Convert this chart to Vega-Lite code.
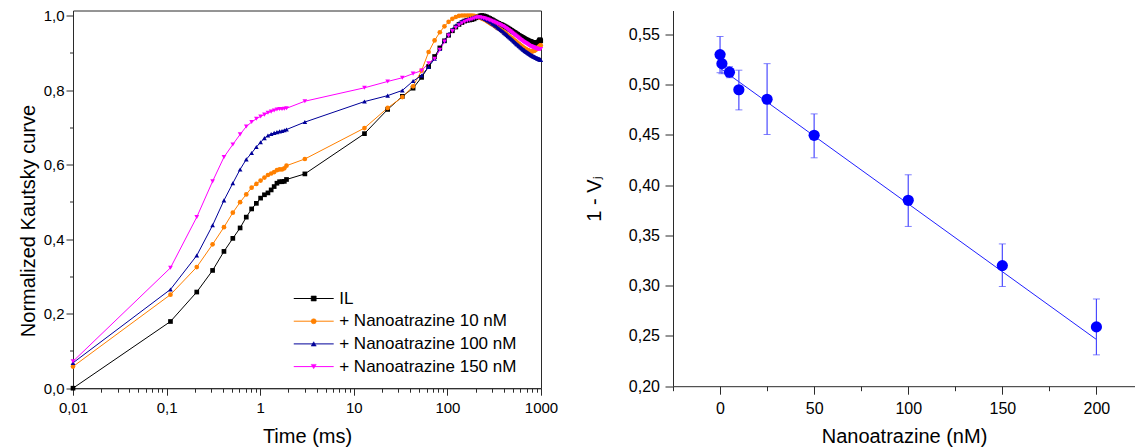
{
"$schema": "https://vega.github.io/schema/vega-lite/v6.json",
"padding": {"left": 17, "top": 7.5, "right": 0, "bottom": 0},
"spacing": 25,
"resolve": {"legend": {"color": "independent", "shape": "independent"}},
"config": {
 "font": "Liberation Sans",
 "view": {"stroke": "#2b2b2b", "strokeWidth": 1},
 "axis": {"grid": false, "domainColor": "#2b2b2b", "tickColor": "#2b2b2b", "labelColor": "#000000", "titleColor": "#000000", "labelFont": "Liberation Sans", "titleFont": "Liberation Sans", "titleFontWeight": "normal", "titleFontSize": 20, "labelFontSize": 15, "labelOverlap": false, "labelFlush": false, "tickWidth": 1, "domainWidth": 1}
},
"hconcat": [
{
 "width": 468, "height": 377.7,
 "data": {"values": [
{"s":"IL","t":0.01,"v":0},{"s":"IL","t":0.11,"v":0.179},{"s":"IL","t":0.21,"v":0.258},{"s":"IL","t":0.31,"v":0.316},{"s":"IL","t":0.41,"v":0.367},{"s":"IL","t":0.51,"v":0.402},{"s":"IL","t":0.61,"v":0.43},{"s":"IL","t":0.71,"v":0.459},{"s":"IL","t":0.81,"v":0.481},{"s":"IL","t":0.91,"v":0.496},{"s":"IL","t":1.01,"v":0.51},{"s":"IL","t":1.11,"v":0.519},{"s":"IL","t":1.21,"v":0.524},{"s":"IL","t":1.31,"v":0.532},{"s":"IL","t":1.41,"v":0.541},{"s":"IL","t":1.51,"v":0.55},{"s":"IL","t":1.61,"v":0.554},{"s":"IL","t":1.71,"v":0.554},{"s":"IL","t":1.81,"v":0.555},{"s":"IL","t":1.91,"v":0.56},
{"s":"IL","t":3,"v":0.575},{"s":"IL","t":13,"v":0.683},{"s":"IL","t":23,"v":0.748},{"s":"IL","t":33,"v":0.783},{"s":"IL","t":43,"v":0.805},{"s":"IL","t":53,"v":0.834},{"s":"IL","t":63,"v":0.863},{"s":"IL","t":73,"v":0.89},{"s":"IL","t":83,"v":0.913},{"s":"IL","t":93,"v":0.932},
{"s":"IL","t":103,"v":0.947},{"s":"IL","t":113,"v":0.959},{"s":"IL","t":123,"v":0.969},{"s":"IL","t":133,"v":0.976},{"s":"IL","t":143,"v":0.981},{"s":"IL","t":153,"v":0.985},{"s":"IL","t":163,"v":0.987},{"s":"IL","t":173,"v":0.988},{"s":"IL","t":183,"v":0.989},{"s":"IL","t":193,"v":0.991},
{"s":"IL","t":203,"v":0.994},{"s":"IL","t":213,"v":0.997},{"s":"IL","t":223,"v":0.999},{"s":"IL","t":233,"v":1},{"s":"IL","t":243,"v":0.999},{"s":"IL","t":253,"v":0.998},{"s":"IL","t":263,"v":0.996},{"s":"IL","t":273,"v":0.994},{"s":"IL","t":283,"v":0.992},{"s":"IL","t":293,"v":0.99},
{"s":"IL","t":303,"v":0.988},{"s":"IL","t":313,"v":0.986},{"s":"IL","t":323,"v":0.984},{"s":"IL","t":333,"v":0.982},{"s":"IL","t":343,"v":0.98},{"s":"IL","t":353,"v":0.979},{"s":"IL","t":363,"v":0.977},{"s":"IL","t":373,"v":0.976},{"s":"IL","t":383,"v":0.975},{"s":"IL","t":393,"v":0.973},
{"s":"IL","t":403,"v":0.972},{"s":"IL","t":413,"v":0.97},{"s":"IL","t":423,"v":0.969},{"s":"IL","t":433,"v":0.967},{"s":"IL","t":443,"v":0.966},{"s":"IL","t":453,"v":0.964},{"s":"IL","t":463,"v":0.963},{"s":"IL","t":473,"v":0.961},{"s":"IL","t":483,"v":0.96},{"s":"IL","t":493,"v":0.958},
{"s":"IL","t":503,"v":0.957},{"s":"IL","t":513,"v":0.955},{"s":"IL","t":523,"v":0.954},{"s":"IL","t":533,"v":0.953},{"s":"IL","t":543,"v":0.951},{"s":"IL","t":553,"v":0.95},{"s":"IL","t":563,"v":0.949},{"s":"IL","t":573,"v":0.947},{"s":"IL","t":583,"v":0.946},{"s":"IL","t":593,"v":0.945},
{"s":"IL","t":603,"v":0.944},{"s":"IL","t":613,"v":0.943},{"s":"IL","t":623,"v":0.942},{"s":"IL","t":633,"v":0.941},{"s":"IL","t":643,"v":0.94},{"s":"IL","t":653,"v":0.939},{"s":"IL","t":663,"v":0.938},{"s":"IL","t":673,"v":0.937},{"s":"IL","t":683,"v":0.936},{"s":"IL","t":693,"v":0.935},
{"s":"IL","t":703,"v":0.934},{"s":"IL","t":713,"v":0.934},{"s":"IL","t":723,"v":0.933},{"s":"IL","t":733,"v":0.932},{"s":"IL","t":743,"v":0.931},{"s":"IL","t":753,"v":0.931},{"s":"IL","t":763,"v":0.93},{"s":"IL","t":773,"v":0.93},{"s":"IL","t":783,"v":0.929},{"s":"IL","t":793,"v":0.929},
{"s":"IL","t":803,"v":0.928},{"s":"IL","t":813,"v":0.928},{"s":"IL","t":823,"v":0.927},{"s":"IL","t":833,"v":0.927},{"s":"IL","t":843,"v":0.927},{"s":"IL","t":853,"v":0.926},{"s":"IL","t":863,"v":0.926},{"s":"IL","t":873,"v":0.926},{"s":"IL","t":883,"v":0.925},{"s":"IL","t":893,"v":0.925},
{"s":"IL","t":903,"v":0.925},{"s":"IL","t":913,"v":0.925},{"s":"IL","t":923,"v":0.926},{"s":"IL","t":933,"v":0.927},{"s":"IL","t":943,"v":0.929},{"s":"IL","t":953,"v":0.931},{"s":"IL","t":963,"v":0.933},{"s":"IL","t":973,"v":0.935},{"s":"IL","t":983,"v":0.934},{"s":"IL","t":993,"v":0.932},

{"s":"10 nM","t":0.01,"v":0.058},{"s":"10 nM","t":0.11,"v":0.251},{"s":"10 nM","t":0.21,"v":0.325},{"s":"10 nM","t":0.31,"v":0.386},{"s":"10 nM","t":0.41,"v":0.432},{"s":"10 nM","t":0.51,"v":0.471},{"s":"10 nM","t":0.61,"v":0.499},{"s":"10 nM","t":0.71,"v":0.52},{"s":"10 nM","t":0.81,"v":0.538},{"s":"10 nM","t":0.91,"v":0.548},{"s":"10 nM","t":1.01,"v":0.557},{"s":"10 nM","t":1.11,"v":0.565},{"s":"10 nM","t":1.21,"v":0.572},{"s":"10 nM","t":1.31,"v":0.576},{"s":"10 nM","t":1.41,"v":0.58},{"s":"10 nM","t":1.51,"v":0.585},{"s":"10 nM","t":1.61,"v":0.587},{"s":"10 nM","t":1.71,"v":0.587},{"s":"10 nM","t":1.81,"v":0.59},{"s":"10 nM","t":1.91,"v":0.597},
{"s":"10 nM","t":3,"v":0.615},{"s":"10 nM","t":13,"v":0.698},{"s":"10 nM","t":23,"v":0.752},{"s":"10 nM","t":33,"v":0.781},{"s":"10 nM","t":43,"v":0.81},{"s":"10 nM","t":53,"v":0.852},{"s":"10 nM","t":63,"v":0.902},{"s":"10 nM","t":73,"v":0.933},{"s":"10 nM","t":83,"v":0.955},{"s":"10 nM","t":93,"v":0.971},
{"s":"10 nM","t":103,"v":0.983},{"s":"10 nM","t":113,"v":0.991},{"s":"10 nM","t":123,"v":0.996},{"s":"10 nM","t":133,"v":0.999},{"s":"10 nM","t":143,"v":1},{"s":"10 nM","t":153,"v":1},{"s":"10 nM","t":163,"v":1},{"s":"10 nM","t":173,"v":1},{"s":"10 nM","t":183,"v":1},{"s":"10 nM","t":193,"v":0.999},
{"s":"10 nM","t":203,"v":0.998},{"s":"10 nM","t":213,"v":0.996},{"s":"10 nM","t":223,"v":0.994},{"s":"10 nM","t":233,"v":0.992},{"s":"10 nM","t":243,"v":0.99},{"s":"10 nM","t":253,"v":0.988},{"s":"10 nM","t":263,"v":0.985},{"s":"10 nM","t":273,"v":0.983},{"s":"10 nM","t":283,"v":0.98},{"s":"10 nM","t":293,"v":0.978},
{"s":"10 nM","t":303,"v":0.976},{"s":"10 nM","t":313,"v":0.974},{"s":"10 nM","t":323,"v":0.971},{"s":"10 nM","t":333,"v":0.969},{"s":"10 nM","t":343,"v":0.967},{"s":"10 nM","t":353,"v":0.965},{"s":"10 nM","t":363,"v":0.963},{"s":"10 nM","t":373,"v":0.961},{"s":"10 nM","t":383,"v":0.959},{"s":"10 nM","t":393,"v":0.957},
{"s":"10 nM","t":403,"v":0.955},{"s":"10 nM","t":413,"v":0.953},{"s":"10 nM","t":423,"v":0.951},{"s":"10 nM","t":433,"v":0.949},{"s":"10 nM","t":443,"v":0.947},{"s":"10 nM","t":453,"v":0.945},{"s":"10 nM","t":463,"v":0.943},{"s":"10 nM","t":473,"v":0.941},{"s":"10 nM","t":483,"v":0.94},{"s":"10 nM","t":493,"v":0.938},
{"s":"10 nM","t":503,"v":0.936},{"s":"10 nM","t":513,"v":0.934},{"s":"10 nM","t":523,"v":0.932},{"s":"10 nM","t":533,"v":0.931},{"s":"10 nM","t":543,"v":0.929},{"s":"10 nM","t":553,"v":0.927},{"s":"10 nM","t":563,"v":0.926},{"s":"10 nM","t":573,"v":0.924},{"s":"10 nM","t":583,"v":0.923},{"s":"10 nM","t":593,"v":0.921},
{"s":"10 nM","t":603,"v":0.92},{"s":"10 nM","t":613,"v":0.918},{"s":"10 nM","t":623,"v":0.917},{"s":"10 nM","t":633,"v":0.916},{"s":"10 nM","t":643,"v":0.914},{"s":"10 nM","t":653,"v":0.913},{"s":"10 nM","t":663,"v":0.912},{"s":"10 nM","t":673,"v":0.911},{"s":"10 nM","t":683,"v":0.91},{"s":"10 nM","t":693,"v":0.909},
{"s":"10 nM","t":703,"v":0.908},{"s":"10 nM","t":713,"v":0.907},{"s":"10 nM","t":723,"v":0.906},{"s":"10 nM","t":733,"v":0.906},{"s":"10 nM","t":743,"v":0.905},{"s":"10 nM","t":753,"v":0.905},{"s":"10 nM","t":763,"v":0.904},{"s":"10 nM","t":773,"v":0.904},{"s":"10 nM","t":783,"v":0.904},{"s":"10 nM","t":793,"v":0.904},
{"s":"10 nM","t":803,"v":0.904},{"s":"10 nM","t":813,"v":0.904},{"s":"10 nM","t":823,"v":0.905},{"s":"10 nM","t":833,"v":0.905},{"s":"10 nM","t":843,"v":0.906},{"s":"10 nM","t":853,"v":0.906},{"s":"10 nM","t":863,"v":0.907},{"s":"10 nM","t":873,"v":0.908},{"s":"10 nM","t":883,"v":0.909},{"s":"10 nM","t":893,"v":0.91},
{"s":"10 nM","t":903,"v":0.911},{"s":"10 nM","t":913,"v":0.912},{"s":"10 nM","t":923,"v":0.913},{"s":"10 nM","t":933,"v":0.914},{"s":"10 nM","t":943,"v":0.915},{"s":"10 nM","t":953,"v":0.916},{"s":"10 nM","t":963,"v":0.917},{"s":"10 nM","t":973,"v":0.918},{"s":"10 nM","t":983,"v":0.919},{"s":"10 nM","t":993,"v":0.92},

{"s":"100 nM","t":0.01,"v":0.068},{"s":"100 nM","t":0.11,"v":0.265},{"s":"100 nM","t":0.21,"v":0.356},{"s":"100 nM","t":0.31,"v":0.437},{"s":"100 nM","t":0.41,"v":0.504},{"s":"100 nM","t":0.51,"v":0.55},{"s":"100 nM","t":0.61,"v":0.587},{"s":"100 nM","t":0.71,"v":0.614},{"s":"100 nM","t":0.81,"v":0.631},{"s":"100 nM","t":0.91,"v":0.647},{"s":"100 nM","t":1.01,"v":0.66},{"s":"100 nM","t":1.11,"v":0.671},{"s":"100 nM","t":1.21,"v":0.678},{"s":"100 nM","t":1.31,"v":0.682},{"s":"100 nM","t":1.41,"v":0.685},{"s":"100 nM","t":1.51,"v":0.687},{"s":"100 nM","t":1.61,"v":0.689},{"s":"100 nM","t":1.71,"v":0.69},{"s":"100 nM","t":1.81,"v":0.692},{"s":"100 nM","t":1.91,"v":0.694},
{"s":"100 nM","t":3,"v":0.714},{"s":"100 nM","t":13,"v":0.769},{"s":"100 nM","t":23,"v":0.785},{"s":"100 nM","t":33,"v":0.799},{"s":"100 nM","t":43,"v":0.824},{"s":"100 nM","t":53,"v":0.839},{"s":"100 nM","t":63,"v":0.862},{"s":"100 nM","t":73,"v":0.884},{"s":"100 nM","t":83,"v":0.91},{"s":"100 nM","t":93,"v":0.933},
{"s":"100 nM","t":103,"v":0.95},{"s":"100 nM","t":113,"v":0.963},{"s":"100 nM","t":123,"v":0.973},{"s":"100 nM","t":133,"v":0.98},{"s":"100 nM","t":143,"v":0.985},{"s":"100 nM","t":153,"v":0.988},{"s":"100 nM","t":163,"v":0.99},{"s":"100 nM","t":173,"v":0.992},{"s":"100 nM","t":183,"v":0.994},{"s":"100 nM","t":193,"v":0.996},
{"s":"100 nM","t":203,"v":0.998},{"s":"100 nM","t":213,"v":0.998},{"s":"100 nM","t":223,"v":0.997},{"s":"100 nM","t":233,"v":0.995},{"s":"100 nM","t":243,"v":0.993},{"s":"100 nM","t":253,"v":0.991},{"s":"100 nM","t":263,"v":0.988},{"s":"100 nM","t":273,"v":0.986},{"s":"100 nM","t":283,"v":0.983},{"s":"100 nM","t":293,"v":0.981},
{"s":"100 nM","t":303,"v":0.978},{"s":"100 nM","t":313,"v":0.976},{"s":"100 nM","t":323,"v":0.973},{"s":"100 nM","t":333,"v":0.971},{"s":"100 nM","t":343,"v":0.968},{"s":"100 nM","t":353,"v":0.966},{"s":"100 nM","t":363,"v":0.964},{"s":"100 nM","t":373,"v":0.961},{"s":"100 nM","t":383,"v":0.959},{"s":"100 nM","t":393,"v":0.957},
{"s":"100 nM","t":403,"v":0.954},{"s":"100 nM","t":413,"v":0.952},{"s":"100 nM","t":423,"v":0.95},{"s":"100 nM","t":433,"v":0.948},{"s":"100 nM","t":443,"v":0.945},{"s":"100 nM","t":453,"v":0.943},{"s":"100 nM","t":463,"v":0.941},{"s":"100 nM","t":473,"v":0.939},{"s":"100 nM","t":483,"v":0.937},{"s":"100 nM","t":493,"v":0.935},
{"s":"100 nM","t":503,"v":0.933},{"s":"100 nM","t":513,"v":0.931},{"s":"100 nM","t":523,"v":0.929},{"s":"100 nM","t":533,"v":0.927},{"s":"100 nM","t":543,"v":0.925},{"s":"100 nM","t":553,"v":0.923},{"s":"100 nM","t":563,"v":0.922},{"s":"100 nM","t":573,"v":0.92},{"s":"100 nM","t":583,"v":0.918},{"s":"100 nM","t":593,"v":0.917},
{"s":"100 nM","t":603,"v":0.915},{"s":"100 nM","t":613,"v":0.914},{"s":"100 nM","t":623,"v":0.912},{"s":"100 nM","t":633,"v":0.911},{"s":"100 nM","t":643,"v":0.909},{"s":"100 nM","t":653,"v":0.908},{"s":"100 nM","t":663,"v":0.907},{"s":"100 nM","t":673,"v":0.905},{"s":"100 nM","t":683,"v":0.904},{"s":"100 nM","t":693,"v":0.903},
{"s":"100 nM","t":703,"v":0.902},{"s":"100 nM","t":713,"v":0.901},{"s":"100 nM","t":723,"v":0.9},{"s":"100 nM","t":733,"v":0.899},{"s":"100 nM","t":743,"v":0.898},{"s":"100 nM","t":753,"v":0.897},{"s":"100 nM","t":763,"v":0.896},{"s":"100 nM","t":773,"v":0.895},{"s":"100 nM","t":783,"v":0.894},{"s":"100 nM","t":793,"v":0.893},
{"s":"100 nM","t":803,"v":0.893},{"s":"100 nM","t":813,"v":0.892},{"s":"100 nM","t":823,"v":0.891},{"s":"100 nM","t":833,"v":0.89},{"s":"100 nM","t":843,"v":0.89},{"s":"100 nM","t":853,"v":0.889},{"s":"100 nM","t":863,"v":0.888},{"s":"100 nM","t":873,"v":0.888},{"s":"100 nM","t":883,"v":0.887},{"s":"100 nM","t":893,"v":0.886},
{"s":"100 nM","t":903,"v":0.886},{"s":"100 nM","t":913,"v":0.885},{"s":"100 nM","t":923,"v":0.885},{"s":"100 nM","t":933,"v":0.884},{"s":"100 nM","t":943,"v":0.884},{"s":"100 nM","t":953,"v":0.883},{"s":"100 nM","t":963,"v":0.883},{"s":"100 nM","t":973,"v":0.882},{"s":"100 nM","t":983,"v":0.882},{"s":"100 nM","t":993,"v":0.881},

{"s":"150 nM","t":0.01,"v":0.072},{"s":"150 nM","t":0.11,"v":0.323},{"s":"150 nM","t":0.21,"v":0.459},{"s":"150 nM","t":0.31,"v":0.555},{"s":"150 nM","t":0.41,"v":0.62},{"s":"150 nM","t":0.51,"v":0.654},{"s":"150 nM","t":0.61,"v":0.681},{"s":"150 nM","t":0.71,"v":0.702},{"s":"150 nM","t":0.81,"v":0.714},{"s":"150 nM","t":0.91,"v":0.723},{"s":"150 nM","t":1.01,"v":0.729},{"s":"150 nM","t":1.11,"v":0.734},{"s":"150 nM","t":1.21,"v":0.739},{"s":"150 nM","t":1.31,"v":0.742},{"s":"150 nM","t":1.41,"v":0.745},{"s":"150 nM","t":1.51,"v":0.748},{"s":"150 nM","t":1.61,"v":0.749},{"s":"150 nM","t":1.71,"v":0.749},{"s":"150 nM","t":1.81,"v":0.75},{"s":"150 nM","t":1.91,"v":0.751},
{"s":"150 nM","t":3,"v":0.77},{"s":"150 nM","t":13,"v":0.806},{"s":"150 nM","t":23,"v":0.823},{"s":"150 nM","t":33,"v":0.833},{"s":"150 nM","t":43,"v":0.844},{"s":"150 nM","t":53,"v":0.852},{"s":"150 nM","t":63,"v":0.872},{"s":"150 nM","t":73,"v":0.884},{"s":"150 nM","t":83,"v":0.908},{"s":"150 nM","t":93,"v":0.93},
{"s":"150 nM","t":103,"v":0.946},{"s":"150 nM","t":113,"v":0.958},{"s":"150 nM","t":123,"v":0.967},{"s":"150 nM","t":133,"v":0.974},{"s":"150 nM","t":143,"v":0.979},{"s":"150 nM","t":153,"v":0.983},{"s":"150 nM","t":163,"v":0.986},{"s":"150 nM","t":173,"v":0.988},{"s":"150 nM","t":183,"v":0.99},{"s":"150 nM","t":193,"v":0.992},
{"s":"150 nM","t":203,"v":0.994},{"s":"150 nM","t":213,"v":0.995},{"s":"150 nM","t":223,"v":0.995},{"s":"150 nM","t":233,"v":0.994},{"s":"150 nM","t":243,"v":0.993},{"s":"150 nM","t":253,"v":0.992},{"s":"150 nM","t":263,"v":0.99},{"s":"150 nM","t":273,"v":0.989},{"s":"150 nM","t":283,"v":0.987},{"s":"150 nM","t":293,"v":0.986},
{"s":"150 nM","t":303,"v":0.984},{"s":"150 nM","t":313,"v":0.983},{"s":"150 nM","t":323,"v":0.981},{"s":"150 nM","t":333,"v":0.98},{"s":"150 nM","t":343,"v":0.978},{"s":"150 nM","t":353,"v":0.977},{"s":"150 nM","t":363,"v":0.975},{"s":"150 nM","t":373,"v":0.974},{"s":"150 nM","t":383,"v":0.972},{"s":"150 nM","t":393,"v":0.971},
{"s":"150 nM","t":403,"v":0.969},{"s":"150 nM","t":413,"v":0.967},{"s":"150 nM","t":423,"v":0.966},{"s":"150 nM","t":433,"v":0.964},{"s":"150 nM","t":443,"v":0.962},{"s":"150 nM","t":453,"v":0.96},{"s":"150 nM","t":463,"v":0.958},{"s":"150 nM","t":473,"v":0.957},{"s":"150 nM","t":483,"v":0.955},{"s":"150 nM","t":493,"v":0.953},
{"s":"150 nM","t":503,"v":0.951},{"s":"150 nM","t":513,"v":0.949},{"s":"150 nM","t":523,"v":0.948},{"s":"150 nM","t":533,"v":0.946},{"s":"150 nM","t":543,"v":0.944},{"s":"150 nM","t":553,"v":0.943},{"s":"150 nM","t":563,"v":0.941},{"s":"150 nM","t":573,"v":0.94},{"s":"150 nM","t":583,"v":0.938},{"s":"150 nM","t":593,"v":0.937},
{"s":"150 nM","t":603,"v":0.935},{"s":"150 nM","t":613,"v":0.934},{"s":"150 nM","t":623,"v":0.933},{"s":"150 nM","t":633,"v":0.931},{"s":"150 nM","t":643,"v":0.93},{"s":"150 nM","t":653,"v":0.929},{"s":"150 nM","t":663,"v":0.928},{"s":"150 nM","t":673,"v":0.927},{"s":"150 nM","t":683,"v":0.926},{"s":"150 nM","t":693,"v":0.925},
{"s":"150 nM","t":703,"v":0.924},{"s":"150 nM","t":713,"v":0.923},{"s":"150 nM","t":723,"v":0.922},{"s":"150 nM","t":733,"v":0.921},{"s":"150 nM","t":743,"v":0.92},{"s":"150 nM","t":753,"v":0.919},{"s":"150 nM","t":763,"v":0.918},{"s":"150 nM","t":773,"v":0.918},{"s":"150 nM","t":783,"v":0.917},{"s":"150 nM","t":793,"v":0.916},
{"s":"150 nM","t":803,"v":0.916},{"s":"150 nM","t":813,"v":0.915},{"s":"150 nM","t":823,"v":0.915},{"s":"150 nM","t":833,"v":0.914},{"s":"150 nM","t":843,"v":0.914},{"s":"150 nM","t":853,"v":0.913},{"s":"150 nM","t":863,"v":0.913},{"s":"150 nM","t":873,"v":0.912},{"s":"150 nM","t":883,"v":0.912},{"s":"150 nM","t":893,"v":0.911},
{"s":"150 nM","t":903,"v":0.911},{"s":"150 nM","t":913,"v":0.911},{"s":"150 nM","t":923,"v":0.91},{"s":"150 nM","t":933,"v":0.91},{"s":"150 nM","t":943,"v":0.91},{"s":"150 nM","t":953,"v":0.91},{"s":"150 nM","t":963,"v":0.91},{"s":"150 nM","t":973,"v":0.91},{"s":"150 nM","t":983,"v":0.91},{"s":"150 nM","t":993,"v":0.91}
 ]},
 "encoding": {
  "x": {"field": "t", "type": "quantitative", "title": "Time (ms)",
   "scale": {"type": "log", "domain": [0.01, 1000], "nice": false},
   "axis": {"values": [0.01,0.02,0.03,0.04,0.05,0.06,0.07,0.08,0.09,0.1,0.2,0.3,0.4,0.5,0.6,0.7,0.8,0.9,1,2,3,4,5,6,7,8,9,10,20,30,40,50,60,70,80,90,100,200,300,400,500,600,700,800,900,1000],
    "labelExpr": "indexof([0.01,0.1,1,10,100,1000], datum.value) >= 0 ? replace(format(datum.value, '~g'), '.', ',') : ''",
    "tickSize": {"condition": {"test": "indexof([0.01,0.1,1,10,100,1000], datum.value) >= 0", "value": 7}, "value": 4},
    "labelPadding": 5, "titlePadding": 11, "titleFontSize": 20, "labelFontSize": 15}},
  "y": {"field": "v", "type": "quantitative", "title": "Normalized Kautsky curve",
   "scale": {"domain": [0, 1.0134], "nice": false, "zero": false},
   "axis": {"values": [0,0.1,0.2,0.3,0.4,0.5,0.6,0.7,0.8,0.9,1],
    "labelExpr": "round(datum.value*10) % 2 == 0 ? replace(format(datum.value, '.1f'), '.', ',') : ''",
    "tickSize": {"condition": {"test": "round(datum.value*10) % 2 == 0", "value": 7}, "value": 3.5},
    "labelPadding": 2, "titlePadding": 5, "titleY": 210, "titleFontSize": 20, "labelFontSize": 15}},
  "color": {"field": "s", "type": "nominal",
   "scale": {"domain": ["IL", "10 nM", "100 nM", "150 nM"], "range": ["#000000", "#ff8000", "#000099", "#ff00ff"]},
   "legend": {"orient": "none", "legendX": 220.2, "legendY": 279.5, "title": null, "padding": 0,
    "symbolType": "stroke", "symbolSize": 1600, "symbolStrokeWidth": 1,
    "labelFontSize": 17, "labelFont": "Liberation Sans", "labelColor": "#000000", "labelOffset": 5, "labelLimit": 300,
    "clipHeight": 17, "rowPadding": 4.7,
    "labelExpr": "datum.value == 'IL' ? 'IL' : '+ Nanoatrazine ' + datum.value"}
  }
 },
 "layer": [
  {"mark": {"type": "line", "strokeWidth": 1}},
  {"mark": {"type": "point", "filled": true, "size": 22, "opacity": 1},
   "encoding": {"shape": {"field": "s", "type": "nominal",
     "scale": {"domain": ["IL", "10 nM", "100 nM", "150 nM", "-"], "range": ["square", "circle", "triangle-up", "triangle-down", "diamond"]},
     "legend": {"orient": "none", "legendX": 232.2, "legendY": 279.5, "title": null, "padding": 0,
      "values": ["IL", "10 nM", "100 nM", "150 nM"],
      "symbolSize": 26, "symbolStrokeWidth": 0.5, "labelFontSize": 17, "labelExpr": "''",
      "clipHeight": 17, "rowPadding": 4.7, "symbolOpacity": 1,
      "symbolFillColor": {"expr": "datum.value == 'IL' ? '#000000' : datum.value == '10 nM' ? '#ff8000' : datum.value == '100 nM' ? '#000099' : '#ff00ff'"},
      "symbolStrokeColor": {"expr": "datum.value == 'IL' ? '#000000' : datum.value == '10 nM' ? '#ff8000' : datum.value == '100 nM' ? '#000099' : '#ff00ff'"}}}}}
 ]
},
{
 "width": 462, "height": 375.7,
 "view": {"stroke": null},
 "layer": [
  {"data": {"values": [{"c": 0, "f": 0.5165}, {"c": 200, "f": 0.2465}]},
   "mark": {"type": "line", "color": "#2020ff", "strokeWidth": 1},
   "encoding": {
    "x": {"field": "c", "type": "quantitative", "title": "Nanoatrazine (nM)",
     "scale": {"domain": [-25, 220.5], "nice": false, "zero": false},
     "axis": {"values": [-25,0,25,50,75,100,125,150,175,200],
      "labelExpr": "datum.value % 50 == 0 ? format(datum.value, 'd') : ''",
      "tickSize": {"condition": {"test": "datum.value % 50 == 0", "value": 8}, "value": 4.5},
      "labelFontSize": 16, "labelPadding": 6, "titlePadding": 10, "titleFontSize": 20}},
    "y": {"field": "f", "type": "quantitative", "title": "1 - V\u2C7C",
     "scale": {"domain": [0.2, 0.5739], "nice": false, "zero": false},
     "axis": {"values": [0.2,0.225,0.25,0.275,0.3,0.325,0.35,0.375,0.4,0.425,0.45,0.475,0.5,0.525,0.55],
      "labelExpr": "round(datum.value*1000) % 50 == 0 ? replace(format(datum.value, '.2f'), '.', ',') : ''",
      "tickSize": {"condition": {"test": "round(datum.value*1000) % 50 == 0", "value": 8}, "value": 4.5},
      "labelFontSize": 16, "labelPadding": 5.5, "titlePadding": 24, "titleFontSize": 20, "titleFont": "Liberation Sans, DejaVu Sans"}}
   }},
  {"data": {"name": "pts", "values": [
    {"c": 0, "m": 0.53, "lo": 0.512, "hi": 0.548},
    {"c": 1, "m": 0.521, "lo": 0.511, "hi": 0.531},
    {"c": 5, "m": 0.5125, "lo": 0.507, "hi": 0.518},
    {"c": 10, "m": 0.495, "lo": 0.475, "hi": 0.5145},
    {"c": 25, "m": 0.4856, "lo": 0.4505, "hi": 0.521},
    {"c": 50, "m": 0.4497, "lo": 0.4273, "hi": 0.471},
    {"c": 100, "m": 0.385, "lo": 0.359, "hi": 0.4104},
    {"c": 150, "m": 0.32, "lo": 0.2992, "hi": 0.3416},
    {"c": 200, "m": 0.259, "lo": 0.2312, "hi": 0.2868}]},
   "mark": {"type": "errorbar", "color": "#4a4aff", "ticks": {"size": 7, "color": "#4a4aff"}, "rule": {"strokeWidth": 1.2}},
   "encoding": {
    "x": {"field": "c", "type": "quantitative", "title": "Nanoatrazine (nM)"},
    "y": {"field": "lo", "type": "quantitative", "title": "1 - V\u2C7C"},
    "y2": {"field": "hi"}
   }},
  {"data": {"name": "pts"},
   "mark": {"type": "circle", "size": 125, "color": "#0000ff", "opacity": 1},
   "encoding": {
    "x": {"field": "c", "type": "quantitative", "title": "Nanoatrazine (nM)"},
    "y": {"field": "m", "type": "quantitative", "title": "1 - V\u2C7C"}
   }},
  {"mark": {"type": "rule", "color": "#2b2b2b", "strokeWidth": 1},
   "encoding": {"y": {"datum": 0.5739}}}
 ]
}
]
}
